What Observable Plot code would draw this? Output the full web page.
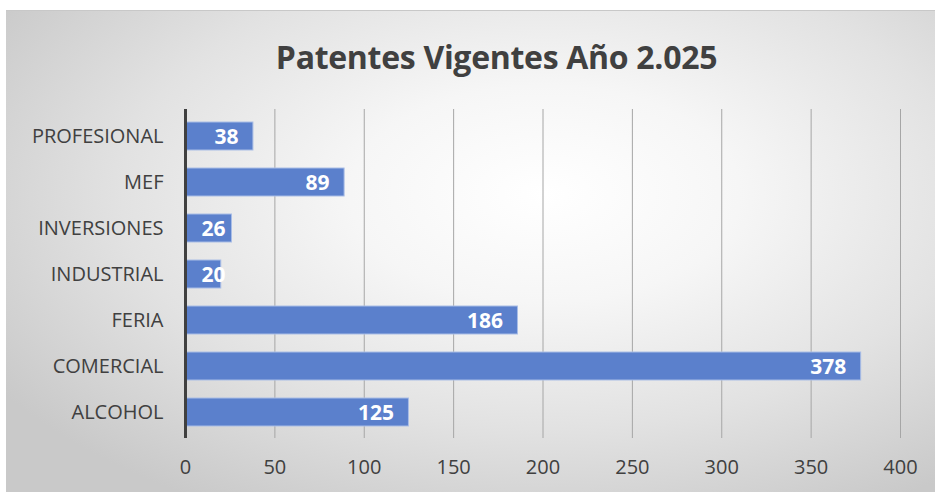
<!DOCTYPE html>
<html>
<head>
<meta charset="utf-8">
<script src="https://cdn.jsdelivr.net/npm/d3@7"></script>
<script src="https://cdn.jsdelivr.net/npm/@observablehq/plot@0.6"></script>
<style>
  html, body { margin: 0; padding: 0; background: #ffffff; }
  #chart {
    position: absolute; left: 6px; top: 10px; width: 929px; height: 482px;
    box-sizing: border-box; border-top: 1px solid #c8c8c8;
    background: radial-gradient(ellipse 70% 75% at 58% 38%, #ffffff 0%, #f6f6f6 30%, #e2e2e2 65%, #c9c9c9 100%);
    font-family: "Open Sans", sans-serif;
  }
  #title {
    height: 85px; line-height: 92px; text-align: center;
    font-size: 32px; font-weight: 700; color: #404040; padding-left: 52px; letter-spacing: -0.3px;
  }
</style>
</head>
<body>
<div id="chart"><div id="title">Patentes Vigentes Año 2.025</div></div>
<script>
const categories = ["PROFESIONAL", "MEF", "INVERSIONES", "INDUSTRIAL", "FERIA", "COMERCIAL", "ALCOHOL"];
const values = [38, 89, 26, 20, 186, 378, 125];
const xTicks = [0, 50, 100, 150, 200, 250, 300, 350, 400];

const data = categories.map((c, i) => ({category: c, value: values[i]}));
const wide = data.filter(d => d.value >= 30);
const narrow = data.filter(d => d.value < 30);

const plot = Plot.plot({
  width: 929,
  height: 395,
  marginLeft: 179,
  marginRight: 35,
  marginTop: 13,
  marginBottom: 53,
  style: {background: "transparent", fontFamily: "Open Sans, sans-serif", overflow: "visible"},
  x: {domain: [0, 400], ticks: xTicks, label: null},
  y: {domain: categories, label: null, paddingInner: 0.4, paddingOuter: 0.24},
  marks: [
    Plot.gridX(xTicks.slice(1), {stroke: "#a6a6a6", strokeOpacity: 1, strokeWidth: 1}),
    Plot.barX(data, {x: "value", y: "category", fill: "#5b80cc", stroke: "#a9bde6", strokeWidth: 1}),
    Plot.ruleX([0], {stroke: "#404040", strokeWidth: 3}),
    Plot.text(wide, {x: "value", y: "category", text: d => String(d.value), textAnchor: "end", dx: -15, dy: 1,
      fill: "white", fontSize: 21, fontWeight: 700}),
    Plot.text(narrow, {x: 0, y: "category", text: d => String(d.value), textAnchor: "start", dx: 16, dy: 1,
      fill: "white", fontSize: 21, fontWeight: 700}),
    Plot.axisX({ticks: xTicks, tickSize: 0, tickPadding: 21, fontSize: 20, color: "#404040", label: null}),
    Plot.axisY({tickSize: 0, tickPadding: 22, fontSize: 20, color: "#404040", label: null})
  ]
});
plot.style.display = "block";
document.getElementById("chart").appendChild(plot);
</script>
</body>
</html>
